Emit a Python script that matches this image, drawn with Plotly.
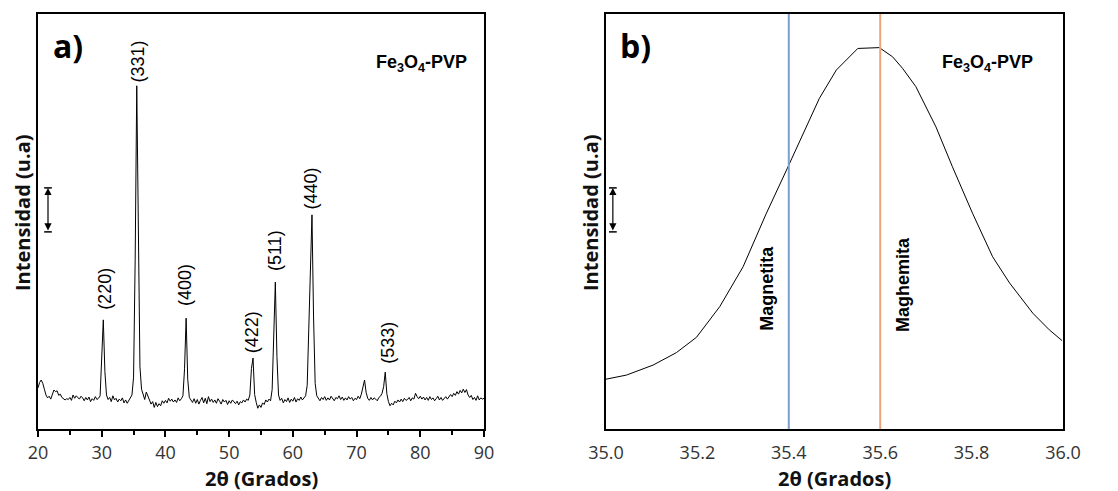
import numpy as np
import plotly.graph_objects as go

# ---- panel a) XRD pattern, 20-90 deg, read every 0.25 deg (intensity in a.u., 0-100 = plot height)
two_theta_a = np.round(np.arange(20.0, 90.001, 0.25), 2)
intensity_a = [
    9.9, 11.2, 11.8, 11.0, 9.6, 8.2, 7.5, 7.9, 7.2, 8.6, 9.4, 9.0, 9.2, 8.1, 8.4, 7.6, 7.4, 7.0, 7.3, 7.1,
    7.6, 6.9, 8.2, 7.4, 8.0, 7.7, 7.2, 7.9, 7.5, 6.8, 7.6, 7.0, 7.7, 6.6, 7.3, 6.9, 7.8, 7.1, 7.4, 8.0,
    15.5, 26.3, 13.8, 8.2, 7.1, 7.6, 6.6, 8.0, 7.0, 7.4, 6.5, 7.2, 6.8, 7.5, 6.3, 7.0, 6.2, 6.9, 7.4, 8.2,
    12.5, 40.7, 82.7, 44.0, 15.0, 9.6, 8.3, 7.1, 8.9, 7.8, 6.9, 6.0, 6.6, 5.2, 6.4, 5.4, 6.1, 5.6, 6.8, 6.2,
    6.9, 6.3, 7.4, 6.7, 7.2, 6.5, 7.0, 6.4, 7.5, 6.8, 7.3, 8.0, 14.5, 26.7, 12.0, 7.6, 7.0, 6.4, 7.3, 6.2,
    7.1, 6.0, 6.9, 7.6, 6.3, 7.4, 6.1, 7.8, 6.6, 7.2, 6.4, 7.0, 6.2, 7.3, 6.7, 6.0, 7.1, 6.5, 6.9, 5.9,
    6.8, 6.2, 7.0, 6.4, 6.1, 6.7, 5.8, 6.6, 6.3, 7.0, 6.5, 7.2, 6.9, 8.2, 14.6, 17.1, 8.3, 6.4, 5.0, 5.8,
    5.2, 6.3, 5.9, 7.0, 6.5, 7.2, 6.8, 9.5, 24.5, 35.4, 17.5, 8.2, 6.9, 7.4, 6.3, 7.1, 6.6, 7.5, 6.4, 7.2,
    6.7, 7.6, 6.5, 7.3, 6.9, 7.7, 7.0, 7.5, 8.0, 10.5, 24.0, 43.5, 51.6, 27.0, 11.0, 8.0, 7.4, 6.8, 7.6, 7.1,
    7.8, 6.9, 7.5, 7.0, 7.9, 7.2, 6.8, 7.6, 7.3, 8.0, 7.1, 7.7, 6.9, 7.5, 7.0, 7.8, 7.2, 7.6, 6.8, 7.4,
    7.1, 7.9, 7.3, 8.4, 10.6, 11.8, 8.8, 7.4, 6.9, 7.6, 7.0, 7.5, 7.2, 6.8, 7.6, 7.9, 8.6, 10.2, 13.7, 8.5,
    6.6, 5.6, 6.2, 5.8, 6.7, 6.3, 7.0, 6.5, 7.2, 6.6, 7.4, 6.9, 7.1, 7.6, 6.8, 7.5, 7.2, 8.6, 7.8, 7.3,
    7.9, 7.2, 7.7, 7.0, 7.6, 6.9, 7.8, 7.1, 7.5, 6.8, 7.3, 7.9, 7.0, 7.6, 6.9, 7.4, 7.8, 7.2, 7.9, 8.3,
    7.8, 8.6, 8.1, 9.0, 8.4, 9.3, 8.7, 9.6, 8.8, 9.5, 8.2, 7.6, 8.1, 7.1, 7.6, 6.9, 8.0, 7.0, 7.5, 7.2,
    7.4,
]

# Miller index labels: position (deg) and peak height
hkl_labels = ["(220)", "(331)", "(400)", "(422)", "(511)", "(440)", "(533)"]
hkl_pos = [30.5, 35.7, 43.1, 53.6, 57.2, 62.7, 74.8]
hkl_top = [28.2, 83.0, 29.2, 17.8, 37.5, 52.4, 15.3]

# ---- panel b) zoom of the (311) peak
two_theta_b = [35.0, 35.045, 35.103, 35.154, 35.198, 35.249, 35.300, 35.351, 35.395, 35.438,
               35.467, 35.504, 35.533, 35.551, 35.598, 35.627, 35.649, 35.678, 35.722, 35.758,
               35.802, 35.846, 35.883, 35.934, 35.970, 35.998]
intensity_b = [12.0, 13.0, 15.4, 18.4, 22.1, 29.5, 39.1, 52.0, 62.4, 72.8,
               79.7, 86.5, 89.7, 91.7, 91.9, 89.7, 86.9, 82.5, 72.8, 63.2,
               52.0, 41.5, 35.2, 27.9, 23.9, 21.3]

phase_names = ["Magnetita", "Maghemita"]
phase_pos = [35.4, 35.6]
phase_colors = ["#7f9dcb", "#eba57a"]

W, H = 1118, 491
left_dom = [38 / W, 484 / W]
right_dom = [606 / W, 1063 / W]
y_dom = [1 - 429 / H, 1 - 14 / H]

sans = "Open Sans, Noto Sans, sans-serif"
arial = "Liberation Sans, Arial, sans-serif"
tick_font = dict(family=sans, size=18, color="#333333")
title_font = dict(family=sans, size=20, color="#111111")

fig = go.Figure()
fig.add_trace(go.Scatter(x=two_theta_a, y=intensity_a, mode="lines",
                         line=dict(color="black", width=1), xaxis="x", yaxis="y",
                         showlegend=False))
fig.add_trace(go.Scatter(x=two_theta_b, y=intensity_b, mode="lines",
                         line=dict(color="black", width=1), xaxis="x2", yaxis="y2",
                         showlegend=False))

frame = dict(showline=True, linecolor="black", linewidth=2, mirror=True,
             showgrid=False, zeroline=False, automargin=False)

fig.update_layout(
    template="none",
    width=W, height=H,
    margin=dict(l=0, r=0, t=0, b=0),
    paper_bgcolor="white", plot_bgcolor="white",
    xaxis=dict(domain=left_dom, range=[20, 90], tickvals=[20, 30, 40, 50, 60, 70, 80, 90],
               ticks="outside", ticklen=6, tickwidth=1.5, tickcolor="black",
               minor=dict(tickvals=[25, 35, 45, 55, 65, 75, 85], ticks="outside",
                          ticklen=4, tickwidth=1.5, tickcolor="black"),
               tickfont=tick_font, anchor="y", **frame),
    yaxis=dict(domain=y_dom, range=[0, 100], showticklabels=False, ticks="",
               anchor="x", **frame),
    xaxis2=dict(domain=right_dom, range=[35.0, 36.0],
                tickvals=[35.0, 35.2, 35.4, 35.6, 35.8, 36.0], tickformat=".1f",
                ticks="outside", ticklen=6, tickcolor="rgba(0,0,0,0)",
                tickfont=tick_font, anchor="y2", **frame),
    yaxis2=dict(domain=y_dom, range=[0, 100], showticklabels=False, ticks="",
                anchor="x2", **frame),
)

# phase reference lines in panel b
for pos, col in zip(phase_pos, phase_colors):
    fig.add_shape(type="line", xref="x2", yref="y2", x0=pos, x1=pos, y0=0, y1=100,
                  line=dict(color=col, width=2))
for name, xp, yc in zip(phase_names, [35.352, 35.65], [34.0, 34.7]):
    fig.add_annotation(x=xp, y=yc, xref="x2", yref="y2", text=f"<b>{name}</b>",
                       textangle=-90, showarrow=False, xanchor="center", yanchor="middle",
                       font=dict(family=arial, size=18, color="black"))

# peak labels in panel a
for lab, xp, yt in zip(hkl_labels, hkl_pos, hkl_top):
    fig.add_annotation(x=xp, y=yt, xref="x", yref="y", text=lab, textangle=-90,
                       showarrow=False, xanchor="center", yanchor="bottom",
                       font=dict(family=arial, size=18, color="black"))

# scale arrows
for xr, yr, xa, half in [("x", "y", 21.57, 0.6), ("x2", "y2", 35.015, 0.0085)]:
    fig.add_annotation(x=xa, y=58.1, ax=xa, ay=47.5, xref=xr, yref=yr, axref=xr, ayref=yr,
                       text="", showarrow=True, arrowhead=2, arrowsize=1.2, arrowwidth=1.2,
                       arrowside="end+start", arrowcolor="black")
    for yy in (58.1, 47.5):
        fig.add_shape(type="line", xref=xr, yref=yr, x0=xa - half, x1=xa + half, y0=yy, y1=yy,
                      line=dict(color="black", width=1.5))

# panel letters, sample names, axis titles (pixel centres)
paper = dict(xref="paper", yref="paper", showarrow=False, xanchor="center", yanchor="middle")
for xc, letter in [(68, "a)"), (635, "b)")]:
    fig.add_annotation(x=xc / W, y=1 - 45 / H, text=f"<b>{letter}</b>",
                       font=dict(family=sans, size=32, color="black"), **paper)
for xc in (422, 987):
    fig.add_annotation(x=xc / W, y=1 - 63 / H, text="<b>Fe<sub>3</sub>O<sub>4</sub>-PVP</b>",
                       font=dict(family=arial, size=18, color="black"), **paper)
for xc in (261, 834):
    fig.add_annotation(x=xc / W, y=1 - 478 / H, text="<b>2θ (Grados)</b>",
                       font=title_font, **paper)
for xc in (22, 590):
    fig.add_annotation(x=xc / W, y=1 - 213 / H, text="<b>Intensidad (u.a)</b>",
                       textangle=-90, font=title_font, **paper)

fig.write_html("out.html", config={"displayModeBar": False},
               post_script="document.body.style.margin='0';document.body.style.overflow='hidden';")
